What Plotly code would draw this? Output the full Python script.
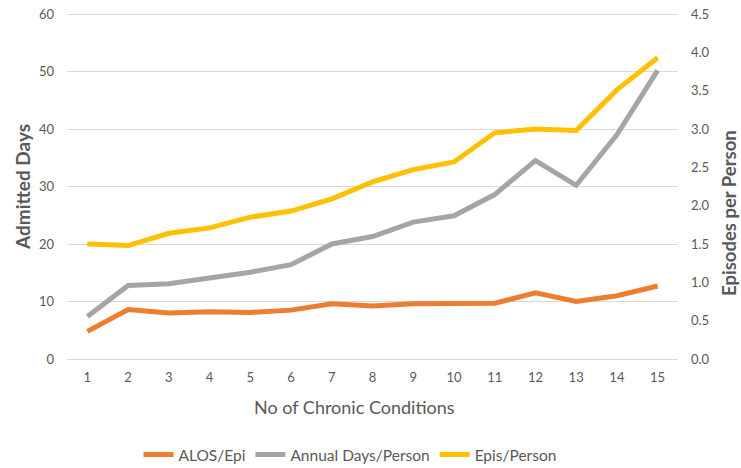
import plotly.graph_objects as go

conditions = [str(i) for i in range(1, 16)]
alos_epi = [4.8, 8.6, 8.0, 8.2, 8.1, 8.5, 9.6, 9.2, 9.6, 9.7, 9.7, 11.5, 10.0, 11.0, 12.7]
annual_days = [7.4, 12.8, 13.1, 14.1, 15.1, 16.4, 20.0, 21.3, 23.8, 24.9, 28.6, 34.5, 30.2, 39.0, 50.2]
epis_person = [1.50, 1.48, 1.64, 1.71, 1.85, 1.93, 2.09, 2.31, 2.47, 2.57, 2.95, 3.00, 2.98, 3.51, 3.93]

left_ticks = [0, 10, 20, 30, 40, 50, 60]
right_ticks = [0.0, 0.5, 1.0, 1.5, 2.0, 2.5, 3.0, 3.5, 4.0, 4.5]

FONT = "Lato"
GREY_TXT = "#595959"
GRID = "#D9D9D9"

# plot box slightly taller than the 0-60 span so the top gridline is not dropped at the edge
PL, PT, PW, PH = 67, 12, 611, 347
SPAN = 345  # pixel span of 0..60
Y_TOP = 60 * PH / SPAN
Y2_TOP = 4.5 * PH / SPAN

fig = go.Figure()
fig.add_trace(go.Scatter(x=conditions, y=alos_epi, name="ALOS/Epi", mode="lines",
                         line=dict(color="#ED7D31", width=5)))
fig.add_trace(go.Scatter(x=conditions, y=annual_days, name="Annual Days/Person", mode="lines",
                         line=dict(color="#A5A5A5", width=5)))
fig.add_trace(go.Scatter(x=conditions, y=epis_person, name="Epis/Person", mode="lines",
                         line=dict(color="#FFC000", width=5), yaxis="y2"))


def px_x(px):
    return (px - PL) / PW


def px_y(py):
    return (PT + PH - py) / PH


fig.update_layout(
    width=741, height=468,
    margin=dict(l=PL, r=741 - PL - PW, t=PT, b=468 - PT - PH, autoexpand=False),
    paper_bgcolor="white", plot_bgcolor="white",
    font=dict(family=FONT, color=GREY_TXT, size=13),
    xaxis=dict(type="category", range=[-0.5, 14.5], showgrid=False, zeroline=False,
               showline=True, linecolor=GRID, linewidth=1, ticks="", automargin=False,
               tickfont=dict(size=13, color=GREY_TXT), ticklabelstandoff=6),
    yaxis=dict(range=[0, Y_TOP], tickvals=left_ticks, showgrid=True, gridcolor=GRID, gridwidth=1,
               zeroline=False, showline=False, ticks="", automargin=False,
               ticklabeloverflow="allow",
               tickfont=dict(size=13, color=GREY_TXT), ticklabelstandoff=12),
    yaxis2=dict(range=[0, Y2_TOP], tickvals=right_ticks, tickformat=".1f", overlaying="y", side="right",
                showgrid=False, zeroline=False, showline=False, ticks="", automargin=False,
                ticklabeloverflow="allow",
                tickfont=dict(size=13, color=GREY_TXT), ticklabelstandoff=12),
    legend=dict(orientation="h", xref="paper", yref="paper", x=px_x(350), xanchor="center",
                y=px_y(455), yanchor="middle", font=dict(size=15.5, color=GREY_TXT, family=FONT),
                itemwidth=30, traceorder="normal", bgcolor="rgba(0,0,0,0)"),
    showlegend=True,
    annotations=[
        dict(text="<b>Admitted Days</b>", xref="paper", yref="paper",
             x=px_x(22), y=px_y(187), textangle=-90, showarrow=False,
             xanchor="center", yanchor="middle", font=dict(size=19, color=GREY_TXT)),
        dict(text="<b>Episodes per Person</b>", xref="paper", yref="paper",
             x=px_x(729), y=px_y(213), textangle=-90, showarrow=False,
             xanchor="center", yanchor="middle", font=dict(size=18.5, color=GREY_TXT)),
        dict(text="No of Chronic Conditions", xref="paper", yref="paper",
             x=px_x(354), y=px_y(407), showarrow=False,
             xanchor="center", yanchor="middle", font=dict(size=18, color=GREY_TXT)),
    ],
)

fig.write_html("out.html", config={"displayModeBar": False},
               post_script="document.body.style.margin='0px';document.body.style.overflow='hidden';")
